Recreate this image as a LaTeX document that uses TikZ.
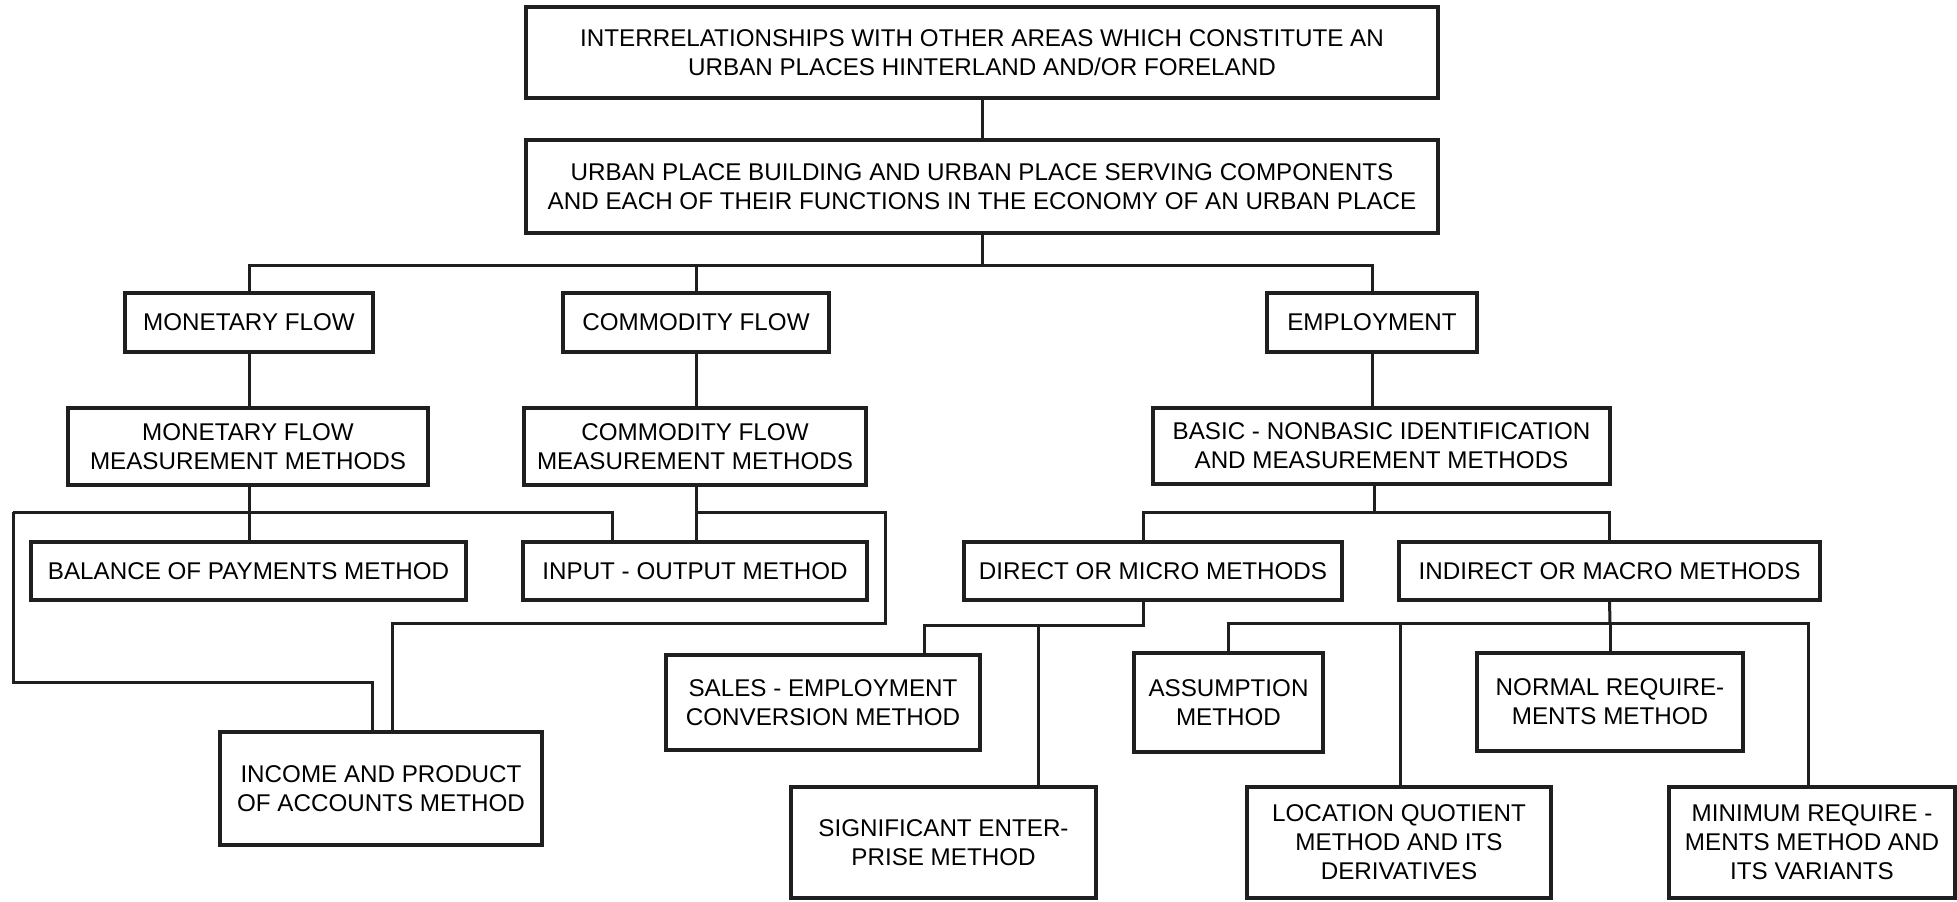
\documentclass[tikz,border=0pt]{standalone}
\usepackage{fontspec}
\setmainfont{Liberation Sans}
\begin{document}
\begin{tikzpicture}[x=0.5pt,y=-0.5pt,
  box/.style={draw=black!88, line width=1.7pt, inner sep=0pt, align=center,
    font=\fontsize{12.1}{14.5}\selectfont},
  sz/.style 2 args={minimum width=#1*0.5pt, minimum height=#2*0.5pt},
  wire/.style={draw=black!88, line width=1.5pt}]
\useasboundingbox (0,0) rectangle (1957,901);
\fill[white] (0,0) rectangle (1957,901);

% top levels
\node[box, sz={912}{91}] (top) at (982,52.5)
  {INTERRELATIONSHIPS WITH OTHER AREAS WHICH CONSTITUTE AN\\URBAN PLACES HINTERLAND AND/OR FORELAND};
\node[box, sz={912}{93}] (comp) at (982,186.5)
  {URBAN PLACE BUILDING AND URBAN PLACE SERVING COMPONENTS\\AND EACH OF THEIR FUNCTIONS IN THE ECONOMY OF AN URBAN PLACE};

% three kinds of flow
\node[box, sz={248}{59}] (mon) at (249,322.5) {MONETARY FLOW};
\node[box, sz={266}{59}] (com) at (696,322.5) {COMMODITY FLOW};
\node[box, sz={210}{59}] (emp) at (1372,322.5) {EMPLOYMENT};

% measurement methods
\node[box, sz={360}{77}] (mfmm) at (248,446.5) {MONETARY FLOW\\MEASUREMENT METHODS};
\node[box, sz={342}{77}] (cfmm) at (695,446.5) {COMMODITY FLOW\\MEASUREMENT METHODS};
\node[box, sz={457}{76}] (basic) at (1381.5,446) {BASIC - NONBASIC IDENTIFICATION\\AND MEASUREMENT METHODS};

% third row
\node[box, sz={435}{58}] (bal) at (248.5,571) {BALANCE OF PAYMENTS METHOD};
\node[box, sz={344}{58}] (io) at (695,571) {INPUT - OUTPUT METHOD};
\node[box, sz={378}{58}] (dir) at (1153,571) {DIRECT OR MICRO METHODS};
\node[box, sz={421}{58}] (ind) at (1609.5,571) {INDIRECT OR MACRO METHODS};

% lower rows
\node[box, sz={322}{113}] (inc) at (381,788.5) {INCOME AND PRODUCT\\OF ACCOUNTS METHOD};
\node[box, sz={314}{95}] (sales) at (823,702.5) {SALES - EMPLOYMENT\\CONVERSION METHOD};
\node[box, sz={305}{111}] (sig) at (943.5,842.5) {SIGNIFICANT ENTER-\\PRISE METHOD};
\node[box, sz={189}{99}] (ass) at (1228.5,702.5) {ASSUMPTION\\METHOD};
\node[box, sz={266}{98}] (norm) at (1610,702) {NORMAL REQUIRE-\\MENTS METHOD};
\node[box, sz={304}{111}] (loc) at (1399,842.5) {LOCATION QUOTIENT\\METHOD AND ITS\\DERIVATIVES};
\node[box, sz={286}{111}] (min) at (1812,842.5) {MINIMUM REQUIRE -\\MENTS METHOD AND\\ITS VARIANTS};

% junction points of the buses
\coordinate (bus1) at (982,265);
\coordinate (mL) at (13,512);
\coordinate (mC) at (249,512);
\coordinate (mR) at (612,512);
\coordinate (cC) at (696,512);
\coordinate (cR) at (885,512);
\coordinate (bb) at (1374,512);
\coordinate (dj) at (1143,625);
\coordinate (ij) at (1610,623);

% upper connectors
\draw[wire] (top.south) -- (comp.north);
\draw[wire] (comp.south) -- (bus1);
\draw[wire] (mon.north) |- (bus1) -| (emp.north);
\draw[wire] (com.north) -- (com.north |- bus1);
\draw[wire] (mon.south) -- (mfmm.north -| mon.south);
\draw[wire] (com.south) -- (cfmm.north -| com.south);
\draw[wire] (emp.south) -- (basic.north -| emp.south);

% monetary flow methods
\draw[wire] (mfmm.south -| mC) -- (bal.north -| mC);
\draw[wire] (mL) -- (mR) -- (io.north -| mR);
\draw[wire] (mL) |- (372,682) -- (inc.north -| 372,0);

% commodity flow methods
\draw[wire] (cfmm.south -| cC) -- (io.north -| cC);
\draw[wire] (cC) -- (cR) |- (392,623) -- (inc.north -| 392,0);

% basic - nonbasic methods
\draw[wire] (basic.south -| bb) -- (bb);
\draw[wire] (dir.north -| dj) |- (bb) -| (ind.north);

% direct methods
\draw[wire] (dir.south -| dj) -- (dj) -| (sales.north -| 924,0);
\draw[wire] (sig.north -| 1038,0) -- (1038,625);

% indirect methods
\draw[wire] (ind.south) -- (ij);
\draw[wire] (ass.north) |- (ij) -| (min.north -| 1808,0);
\draw[wire] (loc.north -| 1400,0) -- (1400,623);
\draw[wire] (norm.north) -- (norm.north |- ij);
\end{tikzpicture}
\end{document}
